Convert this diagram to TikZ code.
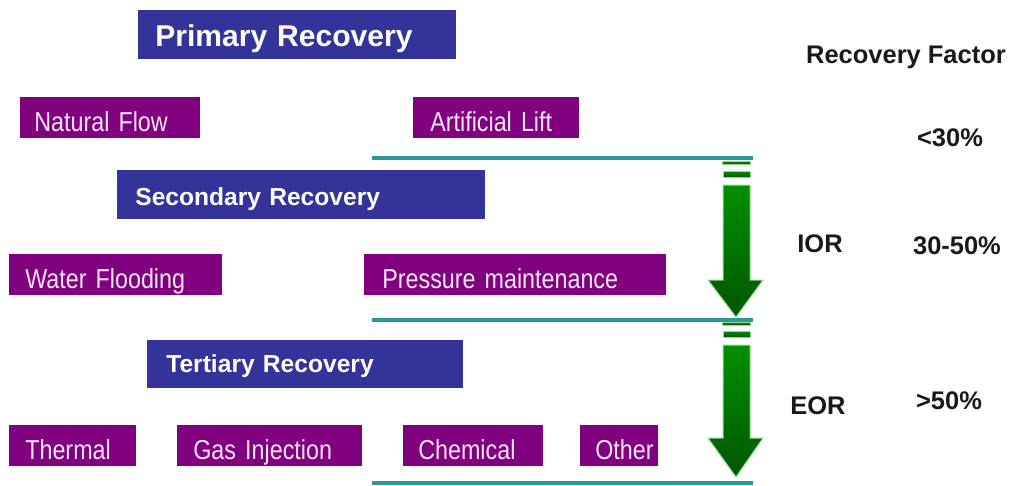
\documentclass[tikz,border=0pt]{standalone}
\usepackage{fontspec}
\setmainfont{Liberation Sans}
\newfontfamily\narrowfont[FakeStretch=0.85, WordSpace=0.55]{Liberation Sans}
\newdimen\px \px=0.02cm
\definecolor{recblue}{RGB}{51,51,153}
\definecolor{methpurple}{RGB}{128,0,128}
\definecolor{pinktext}{RGB}{248,230,248}
\definecolor{lineteal}{RGB}{45,150,150}
\definecolor{arrowtop}{RGB}{0,145,0}
\definecolor{arrowbot}{RGB}{0,85,0}
\definecolor{arrowedge}{RGB}{150,215,150}
\begin{document}
\begin{tikzpicture}[x=0.02cm, y=-0.02cm,
	pad/.style={execute at begin node={\hspace*{#1\px}}},
	stage/.style={fill=recblue, text=white, anchor=north west, inner sep=0pt, align=left,
		font=\bfseries\fontsize{14}{16}\selectfont},
	method/.style={fill=methpurple, text=pinktext, anchor=north west, inner sep=0pt, align=left,
		text height=34\px, text depth=7\px, font=\narrowfont\fontsize{15.6}{18}\selectfont},
	factor/.style={anchor=base, text=black!90, font=\bfseries\fontsize{14.5}{17}\selectfont},
	arrowbody/.style={top color=arrowtop, bottom color=arrowbot, draw=arrowedge, line width=1\px}]
	%画布大小
	\useasboundingbox (0,0) rectangle (1012,485);
	%一次采油
	\node [stage, pad=17, text width=318\px, text height=36\px, text depth=13\px,
		font=\bfseries\fontsize{17.1}{20}\selectfont] (primary) at (138,10) {Primary Recovery};
	\node [method, pad=14, text width=180\px] (natural) at (20,97) {Natural Flow};
	\node [method, pad=17, text width=166\px] (lift) at (413,97) {Artificial Lift};
	%二次采油
	\node [stage, pad=18, text width=368\px, text height=35\px, text depth=14\px] (secondary) at (117,170) {Secondary Recovery};
	\node [method, pad=16, text width=213\px] (water) at (9,254) {Water Flooding};
	\node [method, pad=18, text width=302\px] (pressure) at (364,254) {Pressure maintenance};
	%三次采油
	\node [stage, pad=19, text width=316\px, text height=32\px, text depth=16\px] (tertiary) at (147,340) {Tertiary Recovery};
	\node [method, pad=16, text width=127\px] (thermal) at (9,425) {Thermal};
	\node [method, pad=16, text width=185\px] (gas) at (177,425) {Gas Injection};
	\node [method, pad=15, text width=140\px] (chemical) at (403,425) {Chemical};
	\node [method, pad=15, text width=78\px] (other) at (580,425) {Other};
	%分隔线
	\foreach \y in {158,320,483}
		\draw [lineteal, line width=4\px] (372,\y) -- (753,\y);
	%绿色箭头
	\foreach \da/\db/\sa/\ha/\tip in {161/171/185/280/317, 322/331/345/438/477} {
		\shadedraw [arrowbody] (722,\da) rectangle (750,\da+3);
		\shadedraw [arrowbody] (723,\db) rectangle (750,\db+6);
		\shadedraw [arrowbody] (723,\sa) -- (750,\sa) -- (750,\ha) -- (763,\ha)
			-- (736,\tip) -- (708,\ha) -- (723,\ha) -- cycle;
	}
	%采收率标注
	\node [factor] (rf) at (906,63) {Recovery Factor};
	\node [factor] (low) at (950,146) {<30\%};
	\node [factor] (ior) at (820,252) {IOR};
	\node [factor] (mid) at (957,254) {30-50\%};
	\node [factor] (eor) at (818,414) {EOR};
	\node [factor] (high) at (949,409) {>50\%};
\end{tikzpicture}
\end{document}
